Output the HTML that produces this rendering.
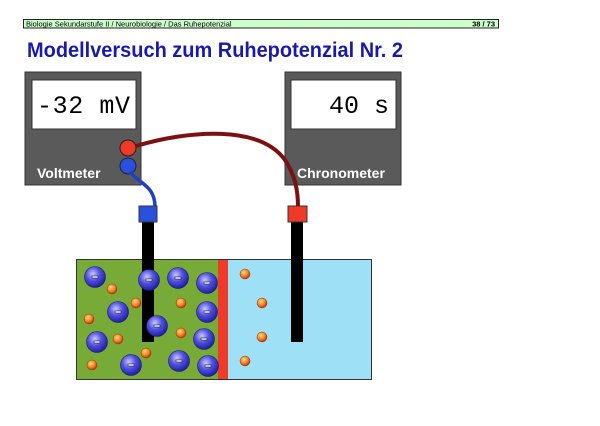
<!DOCTYPE html>
<html><head><style>
body{margin:0;width:600px;height:426px;background:#fff;position:relative;overflow:hidden;font-family:"Liberation Sans",sans-serif}
</style></head><body>
<svg width="600" height="426" style="position:absolute;left:0;top:0">
<defs>
<radialGradient id="an" cx="0.4" cy="0.35" r="0.65"><stop offset="0" stop-color="#c8c8ff"/><stop offset="0.5" stop-color="#5050e0"/><stop offset="1" stop-color="#2020a0"/></radialGradient>
<radialGradient id="ca" cx="0.4" cy="0.35" r="0.65"><stop offset="0" stop-color="#ffe070"/><stop offset="0.6" stop-color="#f08030"/><stop offset="1" stop-color="#c03000"/></radialGradient>
</defs>
<rect x="23.5" y="19.5" width="475" height="8.5" fill="#ccffcc" stroke="#222" stroke-width="1"/>
<text x="26" y="26.5" font-size="7.5" fill="#000">Biologie Sekundarstufe II / Neurobiologie / Das Ruhepotenzial</text>
<text x="495" y="26.5" font-size="7.5" font-weight="bold" text-anchor="end">38 / 73</text>
<text x="27" y="57" font-size="21" font-weight="bold" fill="#1a1aa8" textLength="376" lengthAdjust="spacingAndGlyphs">Modellversuch zum Ruhepotenzial Nr. 2</text>
<!-- voltmeter -->
<rect x="25" y="72" width="116" height="113" fill="#5a5a5a" stroke="#333"/>
<rect x="32" y="80" width="104" height="49" fill="#fff" stroke="#333"/>
<text x="37" y="113" font-size="25" font-family="Liberation Mono, monospace" textLength="93">-32 mV</text>
<text x="37" y="178" font-size="14" font-weight="bold" fill="#fff">Voltmeter</text>
<circle cx="128" cy="148" r="8" fill="#f03a28" stroke="#222"/>
<circle cx="128" cy="166" r="8" fill="#2a4ee0" stroke="#222"/>
<!-- chronometer -->
<rect x="285" y="72" width="116" height="113" fill="#5a5a5a" stroke="#333"/>
<rect x="291" y="80" width="105" height="49" fill="#fff" stroke="#333"/>
<text x="389" y="113" font-size="25" text-anchor="end" font-family="Liberation Mono, monospace">40 s</text>
<text x="297" y="178" font-size="14" font-weight="bold" fill="#fff">Chronometer</text>
<!-- wires -->
<path d="M136,146 C190,130 260,125 285,160 C295,175 298,190 298,207" fill="none" stroke="#7a1010" stroke-width="4"/>
<path d="M130,172 C140,184 155,186 155,207" fill="none" stroke="#2040c0" stroke-width="3.5"/>
<!-- tank -->
<rect x="77" y="260" width="141" height="119" fill="#78aa38"/>
<rect x="218" y="260" width="10" height="119" fill="#f03a28"/>
<rect x="228" y="260" width="144" height="119" fill="#9ee0f6"/>
<rect x="76.5" y="259.5" width="295" height="120" fill="none" stroke="#333"/>
<!-- electrodes -->
<rect x="142" y="222" width="12" height="120" fill="#000"/>
<rect x="291" y="222" width="12" height="120" fill="#000"/>
<rect x="139" y="206" width="18" height="16" fill="#2a50e0" stroke="#333"/>
<rect x="288" y="206" width="19" height="16" fill="#f03a28" stroke="#333"/>
<g fill="url(#ca)" stroke="#a03000" stroke-width="0.5">
<circle cx="112" cy="289" r="5"/><circle cx="136" cy="303" r="5"/><circle cx="181" cy="303" r="5"/><circle cx="89" cy="319" r="5"/><circle cx="118" cy="339" r="5"/><circle cx="181" cy="333" r="5"/><circle cx="146" cy="353" r="5"/><circle cx="92" cy="365" r="5"/>
<circle cx="245" cy="274" r="5"/><circle cx="262" cy="303" r="5"/><circle cx="262" cy="337" r="5"/><circle cx="245" cy="361" r="5"/>
</g>
<g fill="url(#an)" stroke="#1a1a70" stroke-width="0.6">
<circle cx="95" cy="277" r="10.5"/><circle cx="149" cy="280" r="10.5"/><circle cx="178" cy="278" r="10.5"/><circle cx="207" cy="283" r="10.5"/><circle cx="118" cy="312" r="10.5"/><circle cx="207" cy="312" r="10.5"/><circle cx="157" cy="326" r="10.5"/><circle cx="97" cy="342" r="10.5"/><circle cx="204" cy="339" r="10.5"/><circle cx="131" cy="365" r="10.5"/><circle cx="179" cy="361" r="10.5"/><circle cx="208" cy="366" r="10.5"/>
</g>
<g fill="#fff" stroke="#000" stroke-width="0.5">
<rect x="92" y="276" width="6" height="2"/><rect x="146" y="279" width="6" height="2"/><rect x="175" y="277" width="6" height="2"/><rect x="204" y="282" width="6" height="2"/><rect x="115" y="311" width="6" height="2"/><rect x="204" y="311" width="6" height="2"/><rect x="154" y="325" width="6" height="2"/><rect x="94" y="341" width="6" height="2"/><rect x="201" y="338" width="6" height="2"/><rect x="128" y="364" width="6" height="2"/><rect x="176" y="360" width="6" height="2"/><rect x="205" y="365" width="6" height="2"/>
</g>
</svg>
</body></html>
